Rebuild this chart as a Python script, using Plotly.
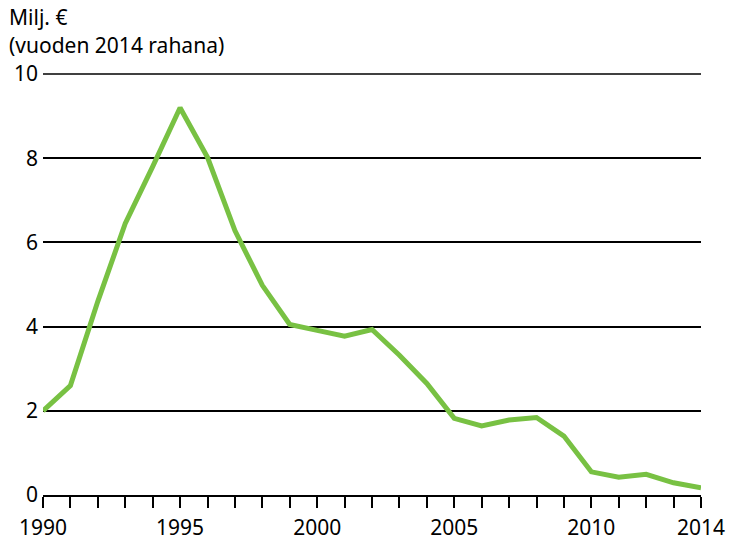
import plotly.graph_objects as go

years = list(range(1990, 2015))
values = [2.0, 2.6, 4.6, 6.45, 7.8, 9.2, 8.02, 6.28, 4.98, 4.05, 3.91, 3.77, 3.93,
          3.32, 2.65, 1.82, 1.64, 1.78, 1.84, 1.40, 0.55, 0.42, 0.49, 0.29, 0.17]
labelled_years = [1990, 1995, 2000, 2005, 2010, 2014]
y_ticks = [0, 2, 4, 6, 8, 10]
title_lines = ["Milj. €", "(vuoden 2014 rahana)"]

FONT = "Noto Sans"
FS = 21
ticktext = [str(y) if y in labelled_years else "" for y in years]

fig = go.Figure()
fig.add_trace(go.Scatter(x=years, y=values, mode="lines",
                         line=dict(color="#78c143", width=5),
                         cliponaxis=False, hoverinfo="skip"))

W, H = 730, 541
L, R, T, B = 43, 29, 74, 46
pw, ph = W - L - R, H - T - B

fig.update_layout(
    width=W, height=H,
    margin=dict(l=L, r=R, t=T, b=B, autoexpand=False),
    paper_bgcolor="white", plot_bgcolor="white",
    showlegend=False,
    font=dict(family=FONT, size=FS, color="black"),
    xaxis=dict(range=[1990, 2014], tickmode="array", tickvals=years, ticktext=ticktext,
               ticks="outside", ticklen=11, tickwidth=1.5, tickcolor="black",
               tickfont=dict(family=FONT, size=FS, color="black"),
               ticklabelstandoff=2,
               showline=True, linecolor="black", linewidth=1.5, automargin=False,
               showgrid=False, zeroline=False, fixedrange=True),
    yaxis=dict(range=[0, 10], tickmode="array", tickvals=y_ticks,
               tickfont=dict(family=FONT, size=FS, color="black"),
               ticklabelstandoff=4,
               showgrid=True, gridcolor="black", gridwidth=1.5, automargin=False,
               zeroline=False, showline=False, ticks="", fixedrange=True),
)

# top gridline at y=10 (Plotly omits the grid line on the plot border)
fig.add_shape(type="line", xref="paper", yref="paper", x0=0, x1=1, y0=1, y1=1,
              line=dict(color="black", width=1.5), layer="below")

fig.add_annotation(x=-36 / pw, y=1 + (74 - 17) / ph, xref="paper", yref="paper",
                   text=title_lines[0], showarrow=False, xanchor="left", yanchor="middle",
                   font=dict(family=FONT, size=FS))
fig.add_annotation(x=-36 / pw, y=1 + (74 - 45) / ph, xref="paper", yref="paper",
                   text=title_lines[1], showarrow=False, xanchor="left", yanchor="middle",
                   font=dict(family=FONT, size=FS))

fig.write_html("out.html", config={"displayModeBar": False},
               post_script="document.body.style.margin='0';document.body.style.padding='0';")
